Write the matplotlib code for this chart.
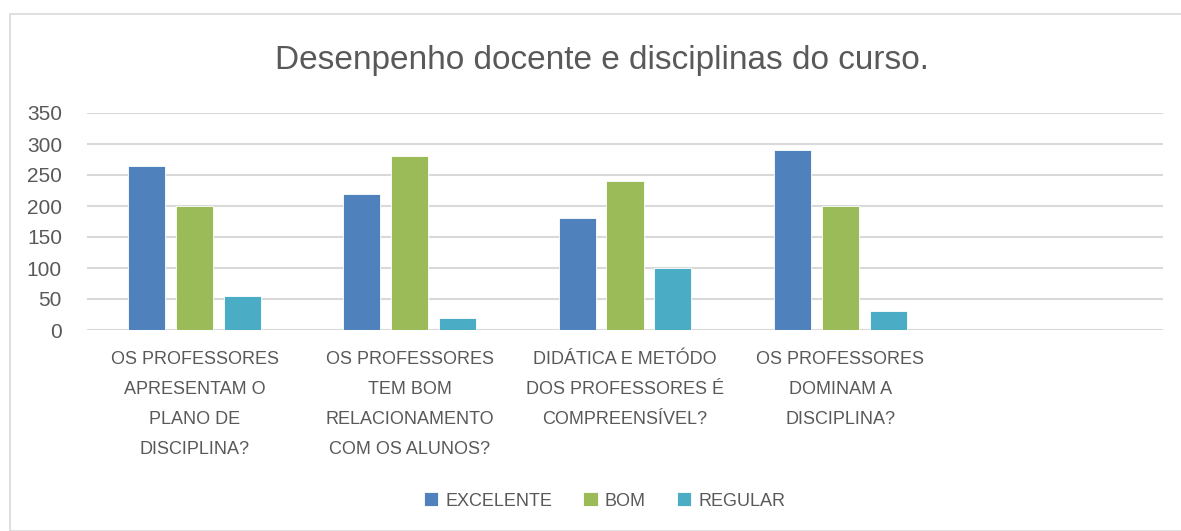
import numpy as np
import matplotlib
matplotlib.use('Agg')
import matplotlib.pyplot as plt
from matplotlib.patches import Rectangle

plt.rcParams['font.family'] = ['Liberation Sans', 'DejaVu Sans']

categories = [
    "OS PROFESSORES\nAPRESENTAM O\nPLANO DE\nDISCIPLINA?",
    "OS PROFESSORES\nTEM BOM\nRELACIONAMENTO\nCOM OS ALUNOS?",
    "DIDÁTICA E METÓDO\nDOS PROFESSORES É\nCOMPREENSÍVEL?",
    "OS PROFESSORES\nDOMINAM A\nDISCIPLINA?",
]
series_names = ["EXCELENTE", "BOM", "REGULAR"]
excelente = [265, 220, 180, 290]
bom = [200, 280, 240, 200]
regular = [55, 20, 100, 30]
colors = ["#4f81bd", "#9bbb59", "#4bacc6"]
text_color = "#595959"

fig = plt.figure(figsize=(11.81, 5.31), dpi=100)
# outer chart border
fig.patches.append(Rectangle((10 / 1181, 0), 1.0, 1 - 14 / 531, transform=fig.transFigure,
                             fill=False, edgecolor="#d9d9d9", linewidth=1.2))

ax = fig.add_axes([87 / 1181, 1 - 330 / 531, (1163 - 87) / 1181, (330 - 113) / 531])

x = np.arange(len(categories))
width = 0.172
step = 0.223
for i, (name, vals) in enumerate(zip(series_names, [excelente, bom, regular])):
    ax.bar(x + (i - 1) * step, vals, width, color=colors[i], label=name,
           edgecolor="white", linewidth=0.6, zorder=3)

ax.set_xlim(-0.5, 4.5)
ax.set_ylim(0, 350)
ax.set_yticks(range(0, 351, 50))
ax.yaxis.grid(True, color="#d9d9d9", linewidth=1.5, zorder=0)
ax.set_xticks(x)
ax.set_xticklabels(categories, fontsize=13, color=text_color, linespacing=2.0, va="top")
ax.tick_params(axis='x', length=0, pad=15)
ax.tick_params(axis='y', length=0, labelsize=15, labelcolor=text_color, pad=18)
for s in ax.spines.values():
    s.set_visible(False)

fig.text(0.51, 1 - 60 / 531, "Desenpenho docente e disciplinas do curso.", ha="center", va="center",
         fontsize=24, color=text_color)

leg = fig.legend(loc="center", bbox_to_anchor=(0.512, 1 - 501 / 531), ncol=3, frameon=False,
                 fontsize=13, handlelength=0.8, handleheight=0.8, handletextpad=0.4, columnspacing=1.7)
for t in leg.get_texts():
    t.set_color(text_color)

plt.savefig("out.png", dpi=100)
